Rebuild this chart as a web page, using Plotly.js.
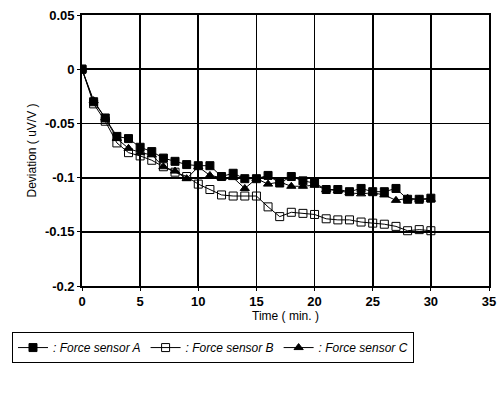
<!DOCTYPE html>
<html>
<head>
<meta charset="utf-8">
<script src="https://cdn.plot.ly/plotly-3.0.1.min.js"></script>
<style>html,body{margin:0;padding:0;background:#fff;}#chart{width:501px;height:397px;}</style>
</head>
<body>
<div id="chart"></div>
<script>
const timeMin = [0,1,2,3,4,5,6,7,8,9,10,11,12,13,14,15,16,17,18,19,20,21,22,23,24,25,26,27,28,29,30];
const sensorA = [0,-0.030,-0.045,-0.062,-0.064,-0.072,-0.076,-0.082,-0.085,-0.088,-0.089,-0.089,-0.099,-0.096,-0.101,-0.101,-0.098,-0.105,-0.099,-0.103,-0.105,-0.111,-0.111,-0.113,-0.110,-0.113,-0.113,-0.110,-0.120,-0.120,-0.119];
const sensorB = [0,-0.032,-0.048,-0.068,-0.077,-0.080,-0.084,-0.090,-0.095,-0.099,-0.106,-0.111,-0.116,-0.117,-0.117,-0.117,-0.127,-0.136,-0.132,-0.133,-0.134,-0.138,-0.139,-0.139,-0.141,-0.142,-0.143,-0.145,-0.149,-0.148,-0.149];
const sensorC = [0,-0.029,-0.045,-0.064,-0.073,-0.077,-0.079,-0.090,-0.094,-0.101,-0.090,-0.098,-0.100,-0.100,-0.110,-0.101,-0.106,-0.104,-0.108,-0.108,-0.107,-0.111,-0.112,-0.114,-0.115,-0.114,-0.116,-0.121,-0.119,-0.120,-0.120];
const seriesNames = [': Force sensor A', ': Force sensor B', ': Force sensor C'];
const xTicks = [0,5,10,15,20,25,30,35];
const yTicks = [-0.2,-0.15,-0.1,-0.05,0,0.05];
const yTickText = ['-0.2','-0.15','-0.1','-0.05','0','0.05'];

const font = {family: 'Liberation Sans, Arial, sans-serif', color: '#000'};
function tr(y, name, sym) {
  return {x: timeMin, y: y, name: name, type: 'scatter', mode: 'lines+markers',
    line: {color: '#000', width: 1},
    marker: {symbol: sym, size: 8, color: '#000', line: {color: '#000', width: 1}}};
}
const data = [
  tr(sensorA, seriesNames[0], 'square'),
  tr(sensorB, seriesNames[1], 'square-open'),
  tr(sensorC, seriesNames[2], 'triangle-up')
];
const layout = {
  width: 501, height: 397,
  margin: {l: 75, r: 12, t: 15, b: 111},
  paper_bgcolor: '#fff', plot_bgcolor: '#fff',
  font: Object.assign({size: 12}, font),
  showlegend: true,
  legend: {orientation: 'h', x: -0.172, xanchor: 'left', y: -0.17, yanchor: 'top',
    bordercolor: '#000', borderwidth: 1, bgcolor: '#fff',
    font: Object.assign({size: 12, style: 'italic'}, font),
    itemwidth: 30, tracegroupgap: 0},
  xaxis: {range: [0, 35], tickvals: xTicks, ticktext: xTicks.map(String),
    showgrid: true, gridcolor: '#000', gridwidth: 1.8,
    showline: true, linecolor: '#000', linewidth: 1.8, mirror: true,
    ticks: 'outside', ticklen: 3, tickcolor: '#000', zeroline: false,
    tickfont: Object.assign({size: 13, weight: 'bold'}, font),
    title: {text: 'Time ( min. )', font: Object.assign({size: 12}, font), standoff: 2}},
  yaxis: {range: [-0.2, 0.05], tickvals: yTicks, ticktext: yTickText,
    showgrid: true, gridcolor: '#000', gridwidth: 1.8,
    showline: true, linecolor: '#000', linewidth: 1.8, mirror: true,
    ticks: 'outside', ticklen: 3, tickcolor: '#000', zeroline: false,
    tickfont: Object.assign({size: 13, weight: 'bold'}, font),
    title: {text: 'Deviation ( uV/V )', font: Object.assign({size: 12}, font), standoff: 6}}
};
Plotly.newPlot('chart', data, layout, {displayModeBar: false, staticPlot: true});
</script>
</body>
</html>
